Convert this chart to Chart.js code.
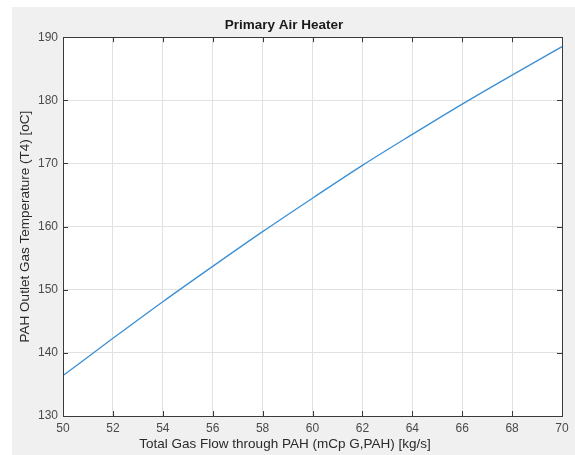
<!DOCTYPE html>
<html>
<head>
<meta charset="utf-8">
<title>Primary Air Heater</title>
<script src="https://cdn.jsdelivr.net/npm/chart.js@4/dist/chart.umd.min.js"></script>
<style>
  html, body { margin: 0; padding: 0; background: #ffffff; }
  canvas { display: block; }
</style>
</head>
<body>
<canvas id="chart" width="575" height="455"></canvas>
<script>
// Gas flow through the primary air heater [kg/s]
const gasFlow = [50, 52, 54, 56, 58, 60, 62, 64, 66, 68, 70];
// Outlet gas temperature T4 [oC]
const outletTemp = [136.4, 142.3, 148.1, 153.7, 159.2, 164.5, 169.7, 174.6, 179.4, 184.0, 188.5];

const xTicks = [50, 52, 54, 56, 58, 60, 62, 64, 66, 68, 70];
const yTicks = [130, 140, 150, 160, 170, 180, 190];

const xLabel = 'Total Gas Flow through PAH (mCp G,PAH) [kg/s]';

const FONT = '"Liberation Sans", Arial, Helvetica, sans-serif';
const AXIS_COLOR = '#3a3a3a';
const LABEL_COLOR = '#4a4a4a';

// Figure background, white axes area, box, inward tick marks and x label
const figurePlugin = {
  id: 'figure',
  beforeDraw(chart) {
    const { ctx, chartArea: a } = chart;
    ctx.save();
    ctx.fillStyle = '#ffffff';
    ctx.fillRect(0, 0, chart.width, chart.height);
    ctx.fillStyle = '#f0f0f0';
    ctx.fillRect(12, 7, chart.width - 12, chart.height - 7);
    ctx.fillStyle = '#ffffff';
    ctx.fillRect(a.left, a.top, a.right - a.left, a.bottom - a.top);
    ctx.restore();
  },
  afterDraw(chart) {
    const { ctx, chartArea: a, scales } = chart;
    const len = 5;
    ctx.save();
    ctx.strokeStyle = AXIS_COLOR;
    ctx.lineWidth = 1;
    ctx.beginPath();
    for (const v of xTicks) {
      const px = Math.round(scales.x.getPixelForValue(v)) + 0.5;
      ctx.moveTo(px, a.bottom); ctx.lineTo(px, a.bottom - len);
      ctx.moveTo(px, a.top); ctx.lineTo(px, a.top + len);
    }
    for (const v of yTicks) {
      const py = Math.round(scales.y.getPixelForValue(v)) + 0.5;
      ctx.moveTo(a.left, py); ctx.lineTo(a.left + len, py);
      ctx.moveTo(a.right, py); ctx.lineTo(a.right - len, py);
    }
    ctx.stroke();
    ctx.strokeRect(Math.round(a.left) + 0.5, Math.round(a.top) + 0.5,
                   Math.round(a.right - a.left), Math.round(a.bottom - a.top));

    ctx.fillStyle = '#2a2a2a';
    ctx.font = '13.5px ' + FONT;
    ctx.textAlign = 'center';
    ctx.textBaseline = 'middle';
    ctx.fillText(xLabel, 285, 444);
    ctx.restore();
  }
};

new Chart(document.getElementById('chart'), {
  type: 'line',
  data: {
    datasets: [{
      data: gasFlow.map((x, i) => ({ x, y: outletTemp[i] })),
      borderColor: '#3b8fd4',
      borderWidth: 1.3,
      pointRadius: 0,
      fill: false,
      cubicInterpolationMode: 'monotone'
    }]
  },
  options: {
    responsive: false,
    devicePixelRatio: 1,
    animation: false,
    layout: { padding: { top: 17, right: 13, bottom: 0, left: 6 } },
    plugins: {
      legend: { display: false },
      tooltip: { enabled: false },
      title: {
        display: true,
        text: 'Primary Air Heater',
        color: '#1a1a1a',
        font: { family: FONT, size: 13.5, weight: 'bold' },
        padding: { top: 0, bottom: 4 }
      }
    },
    scales: {
      x: {
        type: 'linear',
        min: 50, max: 70,
        afterBuildTicks(s) { s.ticks = xTicks.map(v => ({ value: v })); },
        afterFit(s) { s.height = 39; s.paddingLeft = 0; s.paddingRight = 0; },
        grid: { color: '#e2e2e2', drawTicks: false },
        border: { display: false },
        ticks: {
          color: LABEL_COLOR,
          padding: 5,
          maxRotation: 0,
          font: { family: FONT, size: 12 }
        },
        title: { display: false }
      },
      y: {
        type: 'linear',
        min: 130, max: 190,
        afterBuildTicks(s) { s.ticks = yTicks.map(v => ({ value: v })); },
        afterFit(s) { s.width = 57; s.paddingTop = 0; s.paddingBottom = 0; },
        grid: { color: '#e2e2e2', drawTicks: false },
        border: { display: false },
        ticks: {
          color: LABEL_COLOR,
          padding: 5,
          font: { family: FONT, size: 12 }
        },
        title: {
          display: true,
          text: 'PAH Outlet Gas Temperature (T4) [oC]',
          color: '#2a2a2a',
          font: { family: FONT, size: 13.5 },
          padding: { top: 11, bottom: 0 }
        }
      }
    }
  },
  plugins: [figurePlugin]
});
</script>
</body>
</html>
